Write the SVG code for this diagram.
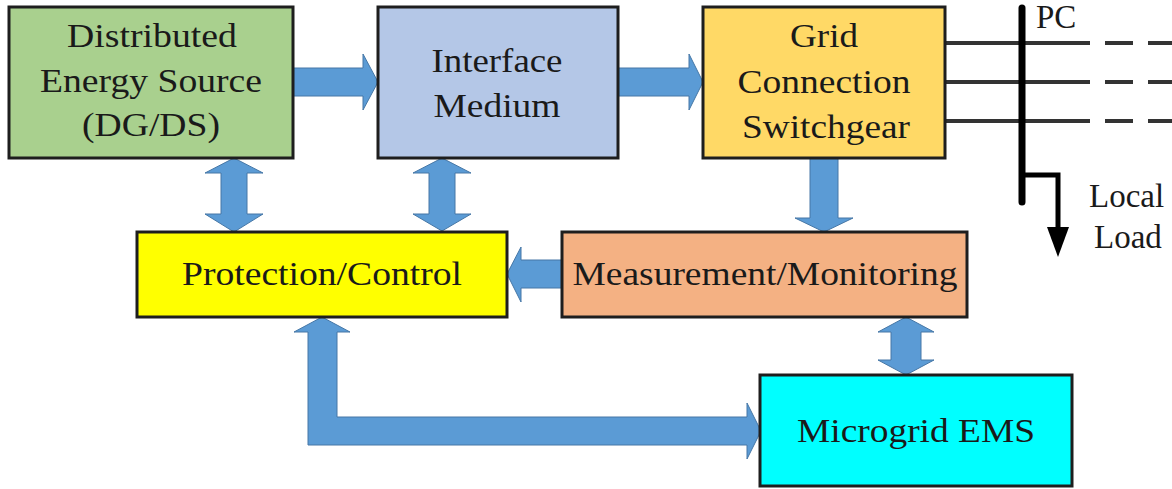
<svg xmlns="http://www.w3.org/2000/svg" width="1172" height="489" viewBox="0 0 1172 489">
  <style>
    .box { stroke: #1e1e1e; stroke-width: 3; }
    .lbl { font-size: 33px; fill: #1a1a1a; text-anchor: middle; }
    .side { font-size: 33px; fill: #1a1a1a; }
    .flow { fill: #5b9bd5; stroke: #4677a6; stroke-width: 1; stroke-linejoin: miter; }
    .feeder { stroke: #333333; stroke-width: 4; fill: none; }
    .dash { stroke: #333333; stroke-width: 4; stroke-dasharray: 28 15; fill: none; }
  </style>
  <rect width="1172" height="489" fill="#ffffff"/>

  <!-- block arrows between the units -->
  <g id="connectors">
    <polygon class="flow" points="293,68 363,68 363,54 378,82 363,110 363,96 293,96"/>
    <polygon class="flow" points="618,68 689,68 689,54 703,82 689,110 689,96 618,96"/>
    <polygon class="flow" points="810,158 838,158 838,218 853,218 824,232 795,218 810,218"/>
    <polygon class="flow" points="562,260 521,260 521,247 507,274 521,302 521,288 562,288"/>
    <polygon class="flow" points="234,158 263,173 247,173 247,214 263,214 234,232 205,214 221,214 221,173 205,173"/>
    <polygon class="flow" points="442,158 471,173 455,173 455,214 471,214 442,231 413,214 429,214 429,173 413,173"/>
    <polygon class="flow" points="906,317 934,332 921,332 921,360 934,360 906,375 878,360 891,360 891,332 878,332"/>
    <polygon class="flow" points="322,317 350,332 337,332 337,417 747,417 747,403 761,431 747,459 747,445 308,445 308,332 294,332"/>
  </g>

  <g font-family="Liberation Serif, Times New Roman, serif">
  <!-- point of connection bus, feeders and local load -->
  <g id="pcc">
    <line class="feeder" x1="945" y1="43" x2="1090" y2="43"/>
    <line class="feeder" x1="945" y1="82" x2="1090" y2="82"/>
    <line class="feeder" x1="945" y1="121" x2="1090" y2="121"/>
    <line class="dash" x1="1105" y1="43" x2="1172" y2="43"/>
    <line class="dash" x1="1105" y1="82" x2="1172" y2="82"/>
    <line class="dash" x1="1105" y1="121" x2="1172" y2="121"/>
    <line x1="1022" y1="8" x2="1022" y2="202" stroke="#000" stroke-width="7" stroke-linecap="round"/>
    <polyline points="1022,175 1058,175 1058,230" fill="none" stroke="#000" stroke-width="5"/>
    <polygon points="1047,227 1069,227 1058,257" fill="#000"/>
    <text class="side" x="1036" y="28" font-size="31">PC</text>
    <text class="side" x="1089" y="207">Local</text>
    <text class="side" x="1094" y="248">Load</text>
  </g>

  <g id="distributed-energy-source">
    <rect class="box" x="9" y="7" width="284" height="151" fill="#a9d08e"/>
    <text class="lbl" x="152" y="47" textLength="170" lengthAdjust="spacingAndGlyphs">Distributed</text>
    <text class="lbl" x="151" y="92" textLength="222" lengthAdjust="spacingAndGlyphs">Energy Source</text>
    <text class="lbl" x="151" y="136" textLength="138" lengthAdjust="spacingAndGlyphs">(DG/DS)</text>
  </g>

  <g id="interface-medium">
    <rect class="box" x="378" y="7" width="240" height="151" fill="#b4c7e7"/>
    <text class="lbl" x="497" y="72" textLength="131" lengthAdjust="spacingAndGlyphs">Interface</text>
    <text class="lbl" x="497" y="117" textLength="127" lengthAdjust="spacingAndGlyphs">Medium</text>
  </g>

  <g id="grid-connection-switchgear">
    <rect class="box" x="703" y="7" width="242" height="151" fill="#ffd966"/>
    <text class="lbl" x="824" y="47" textLength="68" lengthAdjust="spacingAndGlyphs">Grid</text>
    <text class="lbl" x="824" y="93" textLength="173" lengthAdjust="spacingAndGlyphs">Connection</text>
    <text class="lbl" x="826" y="138" textLength="168" lengthAdjust="spacingAndGlyphs">Switchgear</text>
  </g>

  <g id="protection-control">
    <rect class="box" x="137" y="232" width="370" height="85" fill="#ffff00"/>
    <text class="lbl" x="322" y="285" textLength="280" lengthAdjust="spacingAndGlyphs">Protection/Control</text>
  </g>

  <g id="measurement-monitoring">
    <rect class="box" x="562" y="232" width="405" height="85" fill="#f4b183"/>
    <text class="lbl" x="765" y="285" textLength="385" lengthAdjust="spacingAndGlyphs">Measurement/Monitoring</text>
  </g>

  <g id="microgrid-ems">
    <rect class="box" x="760" y="375" width="312" height="111" fill="#00ffff"/>
    <text class="lbl" x="916" y="442" textLength="238" lengthAdjust="spacingAndGlyphs">Microgrid EMS</text>
  </g>
  </g>
</svg>
